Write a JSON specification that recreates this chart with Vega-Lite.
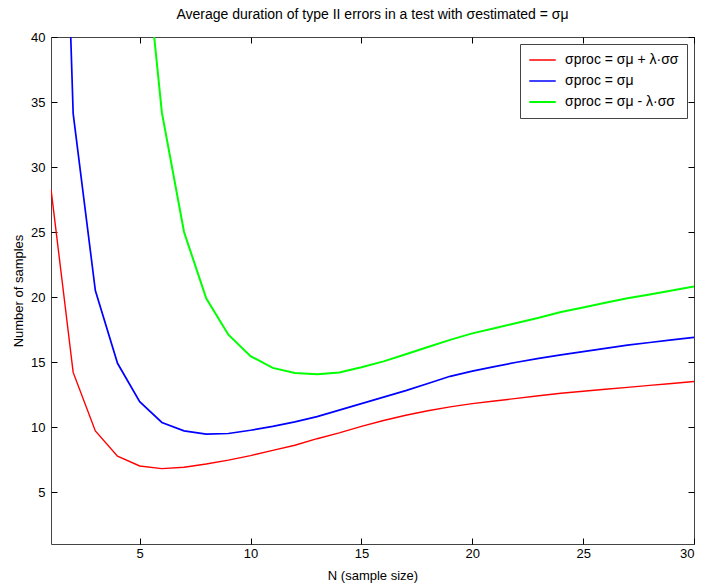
{
  "$schema": "https://vega.github.io/schema/vega-lite/v6.json",
  "autosize": {"type": "none"},
  "width": 643,
  "height": 507,
  "padding": {"left": 51, "top": 37, "right": 10, "bottom": 44},
  "background": "white",
  "title": {"text": "Average duration of type II errors in a test with σestimated = σμ", "fontSize": 14, "fontWeight": "normal", "font": "Liberation Sans", "color": "#000", "anchor": "middle", "offset": 9},
  "data": {"values": [
    {"x":1,"y":28.3,"s":"r"},{"x":2,"y":14.2,"s":"r"},{"x":3,"y":9.7,"s":"r"},{"x":4,"y":7.75,"s":"r"},{"x":5,"y":7.0,"s":"r"},{"x":6,"y":6.8,"s":"r"},{"x":7,"y":6.9,"s":"r"},{"x":8,"y":7.15,"s":"r"},{"x":9,"y":7.45,"s":"r"},{"x":10,"y":7.8,"s":"r"},{"x":11,"y":8.2,"s":"r"},{"x":12,"y":8.6,"s":"r"},{"x":13,"y":9.1,"s":"r"},{"x":14,"y":9.55,"s":"r"},{"x":15,"y":10.05,"s":"r"},{"x":16,"y":10.5,"s":"r"},{"x":17,"y":10.9,"s":"r"},{"x":18,"y":11.25,"s":"r"},{"x":19,"y":11.55,"s":"r"},{"x":20,"y":11.8,"s":"r"},{"x":21,"y":12.0,"s":"r"},{"x":22,"y":12.2,"s":"r"},{"x":23,"y":12.4,"s":"r"},{"x":24,"y":12.6,"s":"r"},{"x":25,"y":12.75,"s":"r"},{"x":26,"y":12.9,"s":"r"},{"x":27,"y":13.05,"s":"r"},{"x":28,"y":13.2,"s":"r"},{"x":29,"y":13.35,"s":"r"},{"x":30,"y":13.5,"s":"r"},
    {"x":1,"y":88,"s":"b"},{"x":2,"y":34.1,"s":"b"},{"x":3,"y":20.5,"s":"b"},{"x":4,"y":14.9,"s":"b"},{"x":5,"y":11.95,"s":"b"},{"x":6,"y":10.35,"s":"b"},{"x":7,"y":9.7,"s":"b"},{"x":8,"y":9.45,"s":"b"},{"x":9,"y":9.5,"s":"b"},{"x":10,"y":9.75,"s":"b"},{"x":11,"y":10.05,"s":"b"},{"x":12,"y":10.4,"s":"b"},{"x":13,"y":10.8,"s":"b"},{"x":14,"y":11.3,"s":"b"},{"x":15,"y":11.8,"s":"b"},{"x":16,"y":12.3,"s":"b"},{"x":17,"y":12.8,"s":"b"},{"x":18,"y":13.35,"s":"b"},{"x":19,"y":13.9,"s":"b"},{"x":20,"y":14.3,"s":"b"},{"x":21,"y":14.65,"s":"b"},{"x":22,"y":14.98,"s":"b"},{"x":23,"y":15.28,"s":"b"},{"x":24,"y":15.55,"s":"b"},{"x":25,"y":15.8,"s":"b"},{"x":26,"y":16.05,"s":"b"},{"x":27,"y":16.3,"s":"b"},{"x":28,"y":16.5,"s":"b"},{"x":29,"y":16.7,"s":"b"},{"x":30,"y":16.9,"s":"b"},
    {"x":5,"y":51,"s":"g"},{"x":6,"y":34.2,"s":"g"},{"x":7,"y":25.0,"s":"g"},{"x":8,"y":19.9,"s":"g"},{"x":9,"y":17.1,"s":"g"},{"x":10,"y":15.45,"s":"g"},{"x":11,"y":14.55,"s":"g"},{"x":12,"y":14.15,"s":"g"},{"x":13,"y":14.05,"s":"g"},{"x":14,"y":14.2,"s":"g"},{"x":15,"y":14.6,"s":"g"},{"x":16,"y":15.05,"s":"g"},{"x":17,"y":15.6,"s":"g"},{"x":18,"y":16.15,"s":"g"},{"x":19,"y":16.7,"s":"g"},{"x":20,"y":17.2,"s":"g"},{"x":21,"y":17.6,"s":"g"},{"x":22,"y":18.0,"s":"g"},{"x":23,"y":18.4,"s":"g"},{"x":24,"y":18.85,"s":"g"},{"x":25,"y":19.2,"s":"g"},{"x":26,"y":19.55,"s":"g"},{"x":27,"y":19.9,"s":"g"},{"x":28,"y":20.2,"s":"g"},{"x":29,"y":20.5,"s":"g"},{"x":30,"y":20.8,"s":"g"}
  ]},
  "layer": [
    {
      "mark": {"type": "line", "clip": true},
      "encoding": {
        "x": {"field": "x", "type": "quantitative", "scale": {"domain": [1, 30], "nice": false, "zero": false},
              "axis": {"orient": "bottom", "values": [5,10,15,20,25,30], "title": "N (sample size)"}},
        "y": {"field": "y", "type": "quantitative", "scale": {"domain": [1, 40], "nice": false, "zero": false},
              "axis": {"orient": "left", "values": [5,10,15,20,25,30,35,40], "title": "Number of samples"}},
        "color": {"field": "s", "type": "nominal",
                  "scale": {"domain": ["r","b","g"], "range": ["#ff0000","#0000ff","#00ff00"]},
                  "legend": {"title": null, "labelExpr": "datum.value == 'r' ? 'σproc = σμ + λ·σσ' : datum.value == 'b' ? 'σproc = σμ' : 'σproc = σμ - λ·σσ'"}},
        "strokeWidth": {"field": "s", "type": "nominal", "scale": {"domain": ["r","b","g"], "range": [1.4, 2, 1.4]}, "legend": null}
      }
    },
    {
      "mark": {"type": "line", "clip": true, "opacity": 0},
      "encoding": {
        "x": {"field": "x", "type": "quantitative",
              "axis": {"orient": "top", "values": [5,10,15,20,25,30], "labels": false, "title": null}},
        "y": {"field": "y", "type": "quantitative",
              "axis": {"orient": "right", "values": [5,10,15,20,25,30,35,40], "labels": false, "title": null}},
        "detail": {"field": "s"}
      }
    }
  ],
  "resolve": {"axis": {"x": "independent", "y": "independent"}},
  "config": {
    "font": "Liberation Sans",
    "view": {"stroke": "#444", "strokeWidth": 1},
    "axis": {
      "grid": false,
      "domain": false,
      "ticks": true,
      "zindex": 1,
      "offset": -6,
      "tickSize": 6,
      "tickWidth": 1,
      "tickColor": "#000",
      "tickOpacity": 1,
      "labelFontSize": 13,
      "labelColor": "#000",
      "titleFontSize": 13,
      "titleFontWeight": "normal",
      "titleColor": "#000",
      "labelFont": "Liberation Sans",
      "titleFont": "Liberation Sans"
    },
    "axisBottom": {"labelPadding": 3, "titlePadding": 9},
    "axisLeft": {"labelPadding": 6, "titlePadding": 5},
    "legend": {
      "orient": "top-right",
      "offset": 7,
      "strokeColor": "#444",
      "fillColor": "white",
      "padding": 8,
      "symbolType": "stroke",
      "symbolSize": 700,
      "symbolStrokeWidth": 1.5,
      "clipHeight": 16,
      "labelFontSize": 14,
      "labelOffset": 8,
      "labelFont": "Liberation Sans",
      "labelColor": "#000",
      "rowPadding": 5,
      "symbolOffset": 0
    }
  }
}
